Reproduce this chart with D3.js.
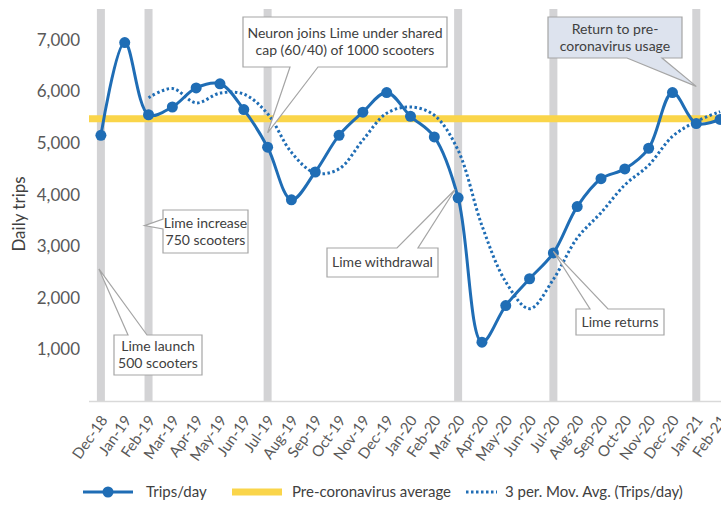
<!DOCTYPE html>
<html>
<head>
<meta charset="utf-8">
<script src="https://cdn.jsdelivr.net/npm/d3@7"></script>
<style>
  body { margin: 0; background: #fff; }
  text { font-family: Lato, "Open Sans", sans-serif; }
</style>
</head>
<body>
<div id="chart"></div>
<script>
//// data
var months = ["Dec-18","Jan-19","Feb-19","Mar-19","Apr-19","May-19","Jun-19","Jul-19",
  "Aug-19","Sep-19","Oct-19","Nov-19","Dec-19","Jan-20","Feb-20","Mar-20","Apr-20",
  "May-20","Jun-20","Jul-20","Aug-20","Sep-20","Oct-20","Nov-20","Dec-20","Jan-21","Feb-21"];

var trips = [5150, 6950, 5550, 5700, 6070, 6150, 5650, 4920, 3900, 4440, 5150, 5600,
  5980, 5520, 5120, 3940, 1140, 1850, 2370, 2870, 3770, 4310, 4500, 4900, 5980, 5380, 5460];

var movAvg = [null, null, 5880, 6060, 5780, 5970, 5950, 5570, 4820, 4420, 4500, 5060,
  5580, 5700, 5540, 4860, 3400, 2310, 1790, 2360, 3160, 3650, 4190, 4570, 5130, 5420, 5610];

var preCovidAvg = 5470;
var yTicks = [1000, 2000, 3000, 4000, 5000, 6000, 7000];
var eventMonths = ["Dec-18", "Feb-19", "Jul-19", "Mar-20", "Jul-20", "Jan-21"];

// callouts: text lines, month/value the pointer goes to
var notes = [
  {lines: ["Neuron joins Lime under shared", "cap (60/40) of 1000 scooters"], month: "Jul-19", value: 5200},
  {lines: ["Return to pre-", "coronavirus usage"], month: "Jan-21", value: 6100},
  {lines: ["Lime increase", "750 scooters"], month: "Feb-19", value: 3400},
  {lines: ["Lime launch", "500 scooters"], month: "Dec-18", value: 2560},
  {lines: ["Lime withdrawal"], month: "Mar-20", value: 4100},
  {lines: ["Lime returns"], month: "Jul-20", value: 2900}
];

var legendItems = ["Trips/day", "Pre-coronavirus average", "3 per. Mov. Avg. (Trips/day)"];

//// chart
var W = 721, H = 506;
var blue = "#1f6db5", yellow = "#fad54a", barGray = "#d3d3d5";

var svg = d3.select("#chart").append("svg")
  .attr("width", W).attr("height", H);

var x = d3.scalePoint().domain(months).range([89, 732]).padding(0.5);
var y = d3.scaleLinear().domain([0, 7600]).range([401, 9]);

// event bars
svg.selectAll(".evt").data(eventMonths).enter().append("rect")
  .attr("class", "evt")
  .attr("x", d => x(d) - 4).attr("width", 8)
  .attr("y", y(7600)).attr("height", y(0) - y(7600))
  .attr("fill", barGray);

// x axis line
svg.append("line")
  .attr("x1", 89).attr("x2", W).attr("y1", y(0) + 0.5).attr("y2", y(0) + 0.5)
  .attr("stroke", "#d9d9d9").attr("stroke-width", 1.5);

// y tick labels
svg.selectAll(".ytick").data(yTicks).enter().append("text")
  .attr("x", 80).attr("y", d => y(d)).attr("dy", "0.35em")
  .attr("text-anchor", "end").attr("font-size", 17).attr("fill", "#595959")
  .text(d3.format(","));

svg.append("text")
  .attr("transform", "translate(25,214) rotate(-90)")
  .attr("text-anchor", "middle").attr("font-size", 17).attr("fill", "#404040")
  .text("Daily trips");

// x tick labels
svg.selectAll(".xtick").data(months).enter().append("text")
  .attr("transform", d => "translate(" + (x(d) + 3) + ",417) rotate(-55)")
  .attr("text-anchor", "end").attr("dy", "0.35em").attr("font-size", 15).attr("fill", "#595959")
  .text(d => d);

// average line
svg.append("line")
  .attr("x1", 89).attr("x2", W).attr("y1", y(preCovidAvg)).attr("y2", y(preCovidAvg))
  .attr("stroke", yellow).attr("stroke-width", 7);

// moving average
var maLine = d3.line()
  .defined(d => d[1] != null)
  .x(d => x(d[0])).y(d => y(d[1]))
  .curve(d3.curveCatmullRom.alpha(0.5));

svg.append("path")
  .datum(months.map((m, i) => [m, movAvg[i]]))
  .attr("d", maLine)
  .attr("fill", "none").attr("stroke", blue).attr("stroke-width", 3)
  .attr("stroke-dasharray", "2.5,2.5");

// trips line
svg.append("path")
  .datum(months.map((m, i) => [m, trips[i]]))
  .attr("d", maLine)
  .attr("fill", "none").attr("stroke", blue).attr("stroke-width", 3);

svg.selectAll(".dots").data(trips).enter().append("circle")
  .attr("class", "dots")
  .attr("cx", (d, i) => x(months[i])).attr("cy", d => y(d))
  .attr("r", 5.5).attr("fill", blue);

//// callouts
// box in px, side the pointer leaves from, pointer base, fill
var boxes = [
  {x0: 243, y0: 17, x1: 447, y1: 67, side: "bottom", b1: 290, b2: 318, fill: "#fff", dx: 0},
  {x0: 548, y0: 17, x1: 682, y1: 58, side: "bottom", b1: 627, b2: 662, fill: "#dde3ee", dx: 0},
  {x0: 163, y0: 210, x1: 248, y1: 253, side: "left", b1: 219, b2: 229, fill: "#fff", dx: -4},
  {x0: 114, y0: 335, x1: 202, y1: 375, side: "top", b1: 128, b2: 147, fill: "#fff", dx: -2},
  {x0: 327, y0: 248, x1: 438, y1: 277, side: "top", b1: 397, b2: 418, fill: "#fff", dx: -3},
  {x0: 576, y0: 309, x1: 664, y1: 335, side: "top", b1: 590, b2: 608, fill: "#fff", dx: 0}
];

function calloutPath(b, tx, ty) {
  if (b.side == "bottom")
    return "M" + b.x0 + "," + b.y0 + "H" + b.x1 + "V" + b.y1 + "H" + b.b2 +
      "L" + tx + "," + ty + "L" + b.b1 + "," + b.y1 + "H" + b.x0 + "Z";
  if (b.side == "top")
    return "M" + b.x0 + "," + b.y0 + "H" + b.b1 + "L" + tx + "," + ty +
      "L" + b.b2 + "," + b.y0 + "H" + b.x1 + "V" + b.y1 + "H" + b.x0 + "Z";
  return "M" + b.x0 + "," + b.y0 + "H" + b.x1 + "V" + b.y1 + "H" + b.x0 + "V" + b.b2 +
    "L" + tx + "," + ty + "L" + b.x0 + "," + b.b1 + "Z";
}

notes.forEach(function(n, i) {
  var b = boxes[i];
  var g = svg.append("g");
  g.append("path")
    .attr("d", calloutPath(b, x(n.month) + b.dx, y(n.value)))
    .attr("fill", b.fill).attr("stroke", "#a5a5a5").attr("stroke-width", 1.2);
  var cx = (b.x0 + b.x1) / 2, cy = (b.y0 + b.y1) / 2;
  var lh = 17;
  n.lines.forEach(function(t, j) {
    g.append("text")
      .attr("x", cx).attr("y", cy + (j - (n.lines.length - 1) / 2) * lh)
      .attr("dy", "0.35em").attr("text-anchor", "middle")
      .attr("font-size", 14).attr("fill", "#404040")
      .text(t);
  });
});

//// legend
var ly = 492;
var lg = svg.append("g");
lg.append("line").attr("x1", 83).attr("x2", 133).attr("y1", ly).attr("y2", ly)
  .attr("stroke", blue).attr("stroke-width", 3);
lg.append("circle").attr("cx", 108).attr("cy", ly).attr("r", 5.5).attr("fill", blue);
lg.append("line").attr("x1", 232).attr("x2", 282).attr("y1", ly).attr("y2", ly)
  .attr("stroke", yellow).attr("stroke-width", 7);
lg.append("line").attr("x1", 466).attr("x2", 497).attr("y1", ly).attr("y2", ly)
  .attr("stroke", blue).attr("stroke-width", 3).attr("stroke-dasharray", "2.5,2.5");

var lx = [146, 292, 505];
lg.selectAll(".ltxt").data(legendItems).enter().append("text")
  .attr("x", (d, i) => lx[i]).attr("y", ly).attr("dy", "0.35em")
  .attr("font-size", 15).attr("fill", "#404040")
  .text(d => d);
</script>
</body>
</html>
